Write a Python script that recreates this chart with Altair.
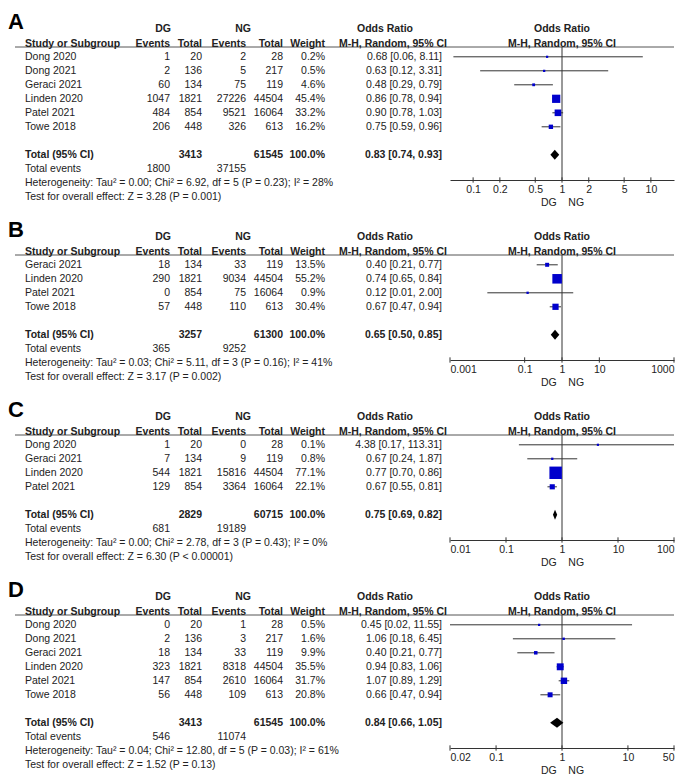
import altair as alt
import pandas as pd

FONT = "Liberation Sans"
TXT = "#222222"
LINE = "#333333"
BLUE = "#0000CC"
FS = 10.5

# ---------------- data ----------------
A_studies = ["Dong 2020", "Dong 2021", "Geraci 2021", "Linden 2020", "Patel 2021", "Towe 2018"]
A_dg_events = [1, 2, 60, 1047, 484, 206]
A_dg_total = [20, 136, 134, 1821, 854, 448]
A_ng_events = [2, 5, 75, 27226, 9521, 326]
A_ng_total = [28, 217, 119, 44504, 16064, 613]
A_weight = [0.2, 0.5, 4.6, 45.4, 33.2, 16.2]
A_or = [0.68, 0.63, 0.48, 0.86, 0.90, 0.75]
A_lo = [0.06, 0.12, 0.29, 0.78, 0.78, 0.59]
A_hi = [8.11, 3.31, 0.79, 0.94, 1.03, 0.96]
A_tot = [3413, 61545]
A_tot_or = [0.83, 0.74, 0.93]
A_tot_events = [1800, 37155]
A_het = "Heterogeneity: Tau² = 0.00; Chi² = 6.92, df = 5 (P = 0.23); I² = 28%"
A_test = "Test for overall effect: Z = 3.28 (P = 0.001)"
A_ticks = [0.1, 0.2, 0.5, 1, 2, 5, 10]
A_domain = [10 ** -1.26, 10 ** 1.26]

B_studies = ["Geraci 2021", "Linden 2020", "Patel 2021", "Towe 2018"]
B_dg_events = [18, 290, 0, 57]
B_dg_total = [134, 1821, 854, 448]
B_ng_events = [33, 9034, 75, 110]
B_ng_total = [119, 44504, 16064, 613]
B_weight = [13.5, 55.2, 0.9, 30.4]
B_or = [0.40, 0.74, 0.12, 0.67]
B_lo = [0.21, 0.65, 0.01, 0.47]
B_hi = [0.77, 0.84, 2.00, 0.94]
B_tot = [3257, 61300]
B_tot_or = [0.65, 0.50, 0.85]
B_tot_events = [365, 9252]
B_het = "Heterogeneity: Tau² = 0.03; Chi² = 5.11, df = 3 (P = 0.16); I² = 41%"
B_test = "Test for overall effect: Z = 3.17 (P = 0.002)"
B_ticks = [0.001, 0.1, 1, 10, 1000]
B_domain = [0.001, 1000]

C_studies = ["Dong 2020", "Geraci 2021", "Linden 2020", "Patel 2021"]
C_dg_events = [1, 7, 544, 129]
C_dg_total = [20, 134, 1821, 854]
C_ng_events = [0, 9, 15816, 3364]
C_ng_total = [28, 119, 44504, 16064]
C_weight = [0.1, 0.8, 77.1, 22.1]
C_or = [4.38, 0.67, 0.77, 0.67]
C_lo = [0.17, 0.24, 0.70, 0.55]
C_hi = [113.31, 1.87, 0.86, 0.81]
C_tot = [2829, 60715]
C_tot_or = [0.75, 0.69, 0.82]
C_tot_events = [681, 19189]
C_het = "Heterogeneity: Tau² = 0.00; Chi² = 2.78, df = 3 (P = 0.43); I² = 0%"
C_test = "Test for overall effect: Z = 6.30 (P < 0.00001)"
C_ticks = [0.01, 0.1, 1, 10, 100]
C_domain = [0.01, 100]

D_studies = ["Dong 2020", "Dong 2021", "Geraci 2021", "Linden 2020", "Patel 2021", "Towe 2018"]
D_dg_events = [0, 2, 18, 323, 147, 56]
D_dg_total = [20, 136, 134, 1821, 854, 448]
D_ng_events = [1, 3, 33, 8318, 2610, 109]
D_ng_total = [28, 217, 119, 44504, 16064, 613]
D_weight = [0.5, 1.6, 9.9, 35.5, 31.7, 20.8]
D_or = [0.45, 1.06, 0.40, 0.94, 1.07, 0.66]
D_lo = [0.02, 0.18, 0.21, 0.83, 0.89, 0.47]
D_hi = [11.55, 6.45, 0.77, 1.06, 1.29, 0.94]
D_tot = [3413, 61545]
D_tot_or = [0.84, 0.66, 1.05]
D_tot_events = [546, 11074]
D_het = "Heterogeneity: Tau² = 0.04; Chi² = 12.80, df = 5 (P = 0.03); I² = 61%"
D_test = "Test for overall effect: Z = 1.52 (P = 0.13)"
D_ticks = [0.02, 0.1, 1, 10, 50]
D_domain = [0.02, 50]

PANELS = [
    ("A", A_studies, A_dg_events, A_dg_total, A_ng_events, A_ng_total, A_weight, A_or, A_lo, A_hi,
     A_tot, A_tot_or, A_tot_events, A_het, A_test, A_ticks, A_domain),
    ("B", B_studies, B_dg_events, B_dg_total, B_ng_events, B_ng_total, B_weight, B_or, B_lo, B_hi,
     B_tot, B_tot_or, B_tot_events, B_het, B_test, B_ticks, B_domain),
    ("C", C_studies, C_dg_events, C_dg_total, C_ng_events, C_ng_total, C_weight, C_or, C_lo, C_hi,
     C_tot, C_tot_or, C_tot_events, C_het, C_test, C_ticks, C_domain),
    ("D", D_studies, D_dg_events, D_dg_total, D_ng_events, D_ng_total, D_weight, D_or, D_lo, D_hi,
     D_tot, D_tot_or, D_tot_events, D_het, D_test, D_ticks, D_domain),
]

# ---------------- layout constants ----------------
TW = 442          # table part width
FW = 224          # forest part width
ROW = 14          # px per row
YMIN = -1.2
COL = dict(study=17, ev1=162, tot1=194, ev2=238, tot2=275, wt=317, ort=434,
           dg=155, ng=235, orh=377, mh=385, line0=7)
H2 = 1.05         # second header row
UL = 1.3          # header underline


def fmt_or(e, l, h):
    return f"{e:.2f} [{l:.2f}, {h:.2f}]"


def make_panel(p):
    (letter, studies, dge, dgt, nge, ngt, wts, ors, los, his,
     tot, tot_or, tot_ev, het, test, ticks, domain) = p
    n = len(studies)
    ax_y = n + 4.8
    yt_max = n + 6.5

    xs_t = alt.Scale(domain=[0, TW], nice=False, zero=False)
    ys_t = alt.Scale(domain=[YMIN, yt_max], reverse=True, nice=False, zero=False)
    xs_f = alt.Scale(type="log", domain=domain, nice=False, clamp=True)
    ys_f = alt.Scale(domain=[YMIN, ax_y], reverse=True, nice=False, zero=False)

    # ---- table texts ----
    left_n, left_b, right_n, right_b, center_b = [], [], [], [], []
    for i, s in enumerate(studies):
        y = 2 + i
        left_n.append(dict(x=COL["study"], y=y, t=s))
        right_n += [
            dict(x=COL["ev1"], y=y, t=str(dge[i])),
            dict(x=COL["tot1"], y=y, t=str(dgt[i])),
            dict(x=COL["ev2"], y=y, t=str(nge[i])),
            dict(x=COL["tot2"], y=y, t=str(ngt[i])),
            dict(x=COL["wt"], y=y, t=f"{wts[i]:.1f}%"),
            dict(x=COL["ort"], y=y, t=fmt_or(ors[i], los[i], his[i])),
        ]
    left_b += [dict(x=COL["study"], y=H2, t="Study or Subgroup"),
               dict(x=COL["study"], y=n + 3, t="Total (95% CI)")]
    left_n += [dict(x=COL["study"], y=n + 4, t="Total events"),
               dict(x=COL["study"], y=n + 5, t=het),
               dict(x=COL["study"], y=n + 6, t=test)]
    right_n += [dict(x=COL["ev1"], y=n + 4, t=str(tot_ev[0])),
                dict(x=COL["ev2"], y=n + 4, t=str(tot_ev[1]))]
    right_b += [dict(x=COL["ev1"], y=H2, t="Events"),
                dict(x=COL["tot1"], y=H2, t="Total"),
                dict(x=COL["ev2"], y=H2, t="Events"),
                dict(x=COL["tot2"], y=H2, t="Total"),
                dict(x=COL["wt"], y=H2, t="Weight"),
                dict(x=COL["tot1"], y=n + 3, t=str(tot[0])),
                dict(x=COL["tot2"], y=n + 3, t=str(tot[1])),
                dict(x=COL["wt"], y=n + 3, t="100.0%"),
                dict(x=COL["ort"], y=n + 3, t=fmt_or(*tot_or))]
    center_b += [dict(x=COL["dg"], y=0, t="DG"),
                 dict(x=COL["ng"], y=0, t="NG"),
                 dict(x=COL["orh"], y=0, t="Odds Ratio"),
                 dict(x=COL["mh"], y=H2, t="M-H, Random, 95% CI")]

    def txt(rows, align, bold, size=FS, baseline="middle"):
        return alt.Chart(pd.DataFrame(rows)).mark_text(
            align=align, baseline=baseline, font=FONT, fontSize=size,
            fontWeight="bold" if bold else "normal", color=TXT
        ).encode(
            x=alt.X("x:Q", scale=xs_t, axis=None),
            y=alt.Y("y:Q", scale=ys_t, axis=None),
            text="t:N",
        )

    ul_t = alt.Chart(pd.DataFrame([dict(x=COL["line0"], x2=TW, y=UL)])).mark_rule(
        color="#555555", strokeWidth=1
    ).encode(x=alt.X("x:Q", scale=xs_t, axis=None), x2="x2:Q",
             y=alt.Y("y:Q", scale=ys_t, axis=None))

    lab = alt.Chart(pd.DataFrame([dict(x=0, y=0.0, t=letter)])).mark_text(
        align="left", baseline="alphabetic", font=FONT, fontSize=22,
        fontWeight="bold", color="#000000"
    ).encode(x=alt.X("x:Q", scale=xs_t, axis=None),
             y=alt.Y("y:Q", scale=ys_t, axis=None), text="t:N")

    table = alt.layer(
        ul_t, lab,
        txt(left_n, "left", False), txt(left_b, "left", True),
        txt(right_n, "right", False), txt(right_b, "right", True),
        txt(center_b, "center", True),
    ).properties(width=TW, height=(yt_max - YMIN) * ROW)

    # ---- forest plot ----
    xaxis = alt.Axis(values=ticks, format="~g", domain=True, domainColor=LINE,
                     domainWidth=1, ticks=False, tickSize=0, grid=False,
                     labelFont=FONT, labelFontSize=FS, labelColor=TXT,
                     labelPadding=4, labelFlush=True, labelOverlap=False,
                     title="DG\u00a0\u00a0\u00a0 NG", titleFont=FONT, titleFontSize=FS,
                     titleFontWeight="normal", titleColor=TXT, titlePadding=3)

    sdf = pd.DataFrame(dict(est=ors, lo=los, hi=his, w=wts,
                            y=[2 + i for i in range(n)]))
    ty = n + 3
    ddf = pd.DataFrame(dict(x=[tot_or[1], tot_or[0], tot_or[2]],
                            y=[ty, ty - 0.36, ty],
                            y2=[ty, ty + 0.36, ty]))
    tdf = pd.DataFrame(dict(t=ticks, y1=[ax_y - 0.19] * len(ticks),
                            y2=[ax_y + 0.19] * len(ticks)))
    hdf = pd.DataFrame([dict(x=1, y=0, t="Odds Ratio"),
                        dict(x=1, y=H2, t="M-H, Random, 95% CI")])
    uldf = pd.DataFrame([dict(x=domain[0], x2=domain[1], y=UL)])
    vdf = pd.DataFrame([dict(x=1, y=UL, y2=ax_y)])

    ci = alt.Chart(sdf).mark_rule(color=LINE, strokeWidth=1).encode(
        x=alt.X("lo:Q", scale=xs_f, axis=xaxis), x2="hi:Q",
        y=alt.Y("y:Q", scale=ys_f, axis=None))
    sq = alt.Chart(sdf).transform_calculate(
        sz="pow(2.2 + 0.133 * datum.w, 2)"
    ).mark_square(filled=True, color=BLUE, opacity=1).encode(
        x=alt.X("est:Q", scale=xs_f, axis=xaxis),
        y=alt.Y("y:Q", scale=ys_f, axis=None),
        size=alt.Size("sz:Q", scale=None))
    dia = alt.Chart(ddf).mark_area(color="#000000", opacity=1).encode(
        x=alt.X("x:Q", scale=xs_f, axis=xaxis),
        y=alt.Y("y:Q", scale=ys_f, axis=None), y2="y2:Q")
    tk = alt.Chart(tdf).mark_rule(color=LINE, strokeWidth=1).encode(
        x=alt.X("t:Q", scale=xs_f, axis=xaxis),
        y=alt.Y("y1:Q", scale=ys_f, axis=None), y2="y2:Q")
    hd = alt.Chart(hdf).mark_text(align="center", baseline="middle", font=FONT,
                                  fontSize=FS, fontWeight="bold", color=TXT).encode(
        x=alt.X("x:Q", scale=xs_f, axis=xaxis),
        y=alt.Y("y:Q", scale=ys_f, axis=None), text="t:N")
    ul_f = alt.Chart(uldf).mark_rule(color="#555555", strokeWidth=1).encode(
        x=alt.X("x:Q", scale=xs_f, axis=xaxis), x2="x2:Q",
        y=alt.Y("y:Q", scale=ys_f, axis=None))
    vl = alt.Chart(vdf).mark_rule(color=LINE, strokeWidth=1).encode(
        x=alt.X("x:Q", scale=xs_f, axis=xaxis),
        y=alt.Y("y:Q", scale=ys_f, axis=None), y2="y2:Q")

    forest = alt.layer(ul_f, vl, ci, tk, sq, dia, hd).properties(
        width=FW, height=(ax_y - YMIN) * ROW)

    return alt.hconcat(table, forest, spacing=0, bounds="flush")


chart = alt.vconcat(*[make_panel(p) for p in PANELS], spacing=10).properties(
    padding={"left": 0, "top": 2, "right": 0, "bottom": 0}
).configure_view(stroke=None)

chart.save("out.html", embed_options={"renderer": "svg", "actions": False})
